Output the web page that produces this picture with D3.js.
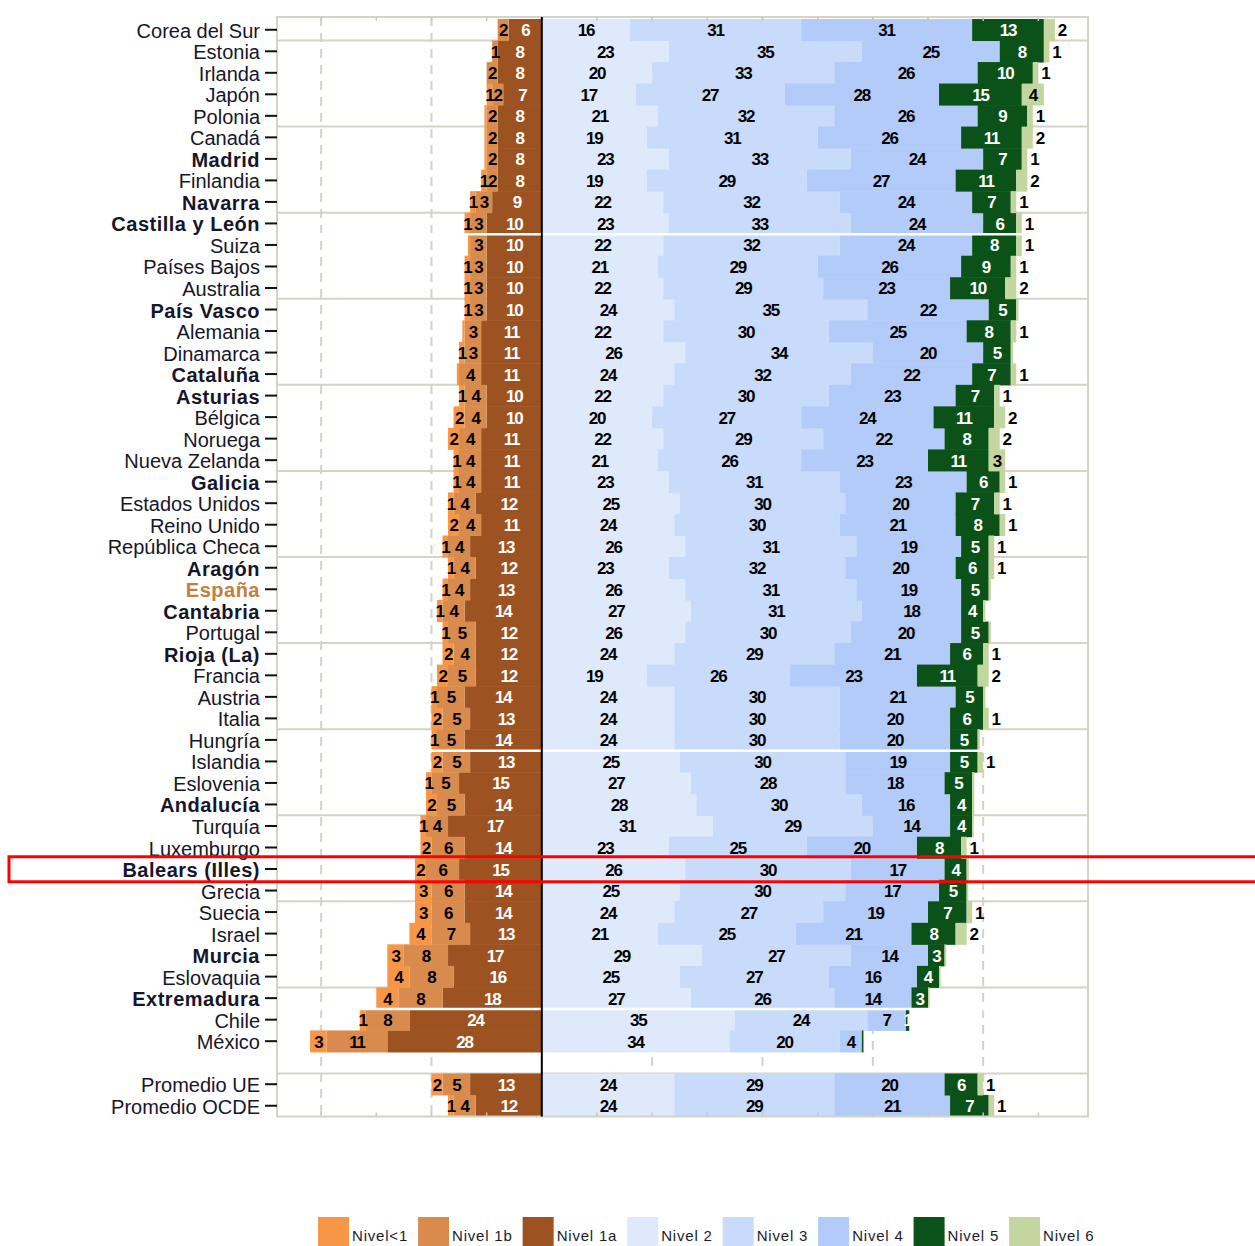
<!DOCTYPE html>
<html>
<head>
<meta charset="utf-8">
<script src="https://cdn.jsdelivr.net/npm/d3@7"></script>
<style>
  body { margin: 0; background: #fff; }
  text { font-family: "Liberation Sans", Arial, sans-serif; }
</style>
</head>
<body>
<script>
(function () {

    // categories, top to bottom ('' = empty spacer row)
    const categories = ['Corea del Sur', 'Estonia', 'Irlanda', 'Japón', 'Polonia', 'Canadá', 'Madrid',
        'Finlandia', 'Navarra', 'Castilla y León', 'Suiza', 'Países Bajos', 'Australia', 'País Vasco',
        'Alemania', 'Dinamarca', 'Cataluña', 'Asturias', 'Bélgica', 'Noruega', 'Nueva Zelanda', 'Galicia',
        'Estados Unidos', 'Reino Unido', 'República Checa', 'Aragón', 'España', 'Cantabria', 'Portugal',
        'Rioja (La)', 'Francia', 'Austria', 'Italia', 'Hungría', 'Islandia', 'Eslovenia', 'Andalucía',
        'Turquía', 'Luxemburgo', 'Balears (Illes)', 'Grecia', 'Suecia', 'Israel', 'Murcia', 'Eslovaquia',
        'Extremadura', 'Chile', 'México', '', 'Promedio UE', 'Promedio OCDE'];

    const regiones = ['Madrid', 'Navarra', 'Castilla y León', 'País Vasco', 'Cataluña', 'Asturias', 'Galicia',
        'Aragón', 'España', 'Cantabria', 'Rioja (La)', 'Andalucía', 'Balears (Illes)', 'Murcia', 'Extremadura'];

    // percentages per level
    const nivelMenos1 = [0, 0, 0, 1, 0.4, 0.4, 0.4, 1, 1, 1, 0.4, 1, 1, 1, 0.4, 1, 0.4, 1, 2, 2, 1, 1, 1, 2, 1,
        1, 1, 1, 1, 2, 2, 1, 2, 1, 2, 1, 2, 1, 2, 2, 3, 3, 4, 3, 4, 4, 1, 3, 0, 2, 1];
    const nivel1b = [2, 1, 2, 2, 2, 2, 2, 2, 3, 3, 3, 3, 3, 3, 3, 3, 4, 4, 4, 4, 4, 4, 4, 4, 4,
        4, 4, 4, 5, 4, 5, 5, 5, 5, 5, 5, 5, 4, 6, 6, 6, 6, 7, 8, 8, 8, 8, 11, 0, 5, 4];
    const nivel1a = [6, 8, 8, 7, 8, 8, 8, 8, 9, 10, 10, 10, 10, 10, 11, 11, 11, 10, 10, 11, 11, 11, 12, 11, 13,
        12, 13, 14, 12, 12, 12, 14, 13, 14, 13, 15, 14, 17, 14, 15, 14, 14, 13, 17, 16, 18, 24, 28, 0, 13, 12];
    const nivel2 = [16, 23, 20, 17, 21, 19, 23, 19, 22, 23, 22, 21, 22, 24, 22, 26, 24, 22, 20, 22, 21, 23, 25, 24, 26,
        23, 26, 27, 26, 24, 19, 24, 24, 24, 25, 27, 28, 31, 23, 26, 25, 24, 21, 29, 25, 27, 35, 34, 0, 24, 24];
    const nivel3 = [31, 35, 33, 27, 32, 31, 33, 29, 32, 33, 32, 29, 29, 35, 30, 34, 32, 30, 27, 29, 26, 31, 30, 30, 31,
        32, 31, 31, 30, 29, 26, 30, 30, 30, 30, 28, 30, 29, 25, 30, 30, 27, 25, 27, 27, 26, 24, 20, 0, 29, 29];
    const nivel4 = [31, 25, 26, 28, 26, 26, 24, 27, 24, 24, 24, 26, 23, 22, 25, 20, 22, 23, 24, 22, 23, 23, 20, 21, 19,
        20, 19, 18, 20, 21, 23, 21, 20, 20, 19, 18, 16, 14, 20, 17, 17, 19, 21, 14, 16, 14, 7, 4, 0, 20, 21];
    const nivel5 = [13, 8, 10, 15, 9, 11, 7, 11, 7, 6, 8, 9, 10, 5, 8, 5, 7, 7, 11, 8, 11, 6, 7, 8, 5,
        6, 5, 4, 5, 6, 11, 5, 6, 5, 5, 5, 4, 4, 8, 4, 5, 7, 8, 3, 4, 3, 0.6, 0.3, 0, 6, 7];
    const nivel6 = [2, 1, 1, 4, 1, 2, 1, 2, 1, 1, 1, 1, 2, 0.4, 1, 0.4, 1, 1, 2, 2, 3, 1, 1, 1, 1,
        1, 0.4, 0.4, 0.4, 1, 2, 0.4, 1, 0.4, 1, 0.4, 0.4, 0.3, 1, 0.4, 0.3, 1, 2, 0.3, 0.3, 0.3, 0, 0, 0, 1, 1];

    const levelNames = ['Nivel<1', 'Nivel 1b', 'Nivel 1a', 'Nivel 2', 'Nivel 3', 'Nivel 4', 'Nivel 5', 'Nivel 6'];
    const levelColors = ['#f79646', '#d98b4e', '#9c5221', '#dfe9fc', '#c9dbfa', '#b3cbf8', '#0a5218', '#c4d69f'];
    const labelColors = ['#000', '#000', '#fff', '#000', '#000', '#000', '#fff', '#000'];

    const width = 1255, height = 1246;

    const svg = d3.select('body')
        .append('svg')
        .attr('width', width)
        .attr('height', height);

    const x = d3.scaleLinear()
        .domain([-48, 99])
        .range([277, 1088]);

    const y = d3.scaleBand()
        .domain(categories)
        .range([19, 1116.5])
        .padding(0);

    // table: negatives for the levels below 2
    const keys = ['n1a', 'n1b', 'n0', 'n2', 'n3', 'n4', 'n5', 'n6'];
    const keyLevel = {n0: 0, n1b: 1, n1a: 2, n2: 3, n3: 4, n4: 5, n5: 6, n6: 7};
    const table = categories.map((c, i) => ({
        cat: c,
        n0: -nivelMenos1[i], n1b: -nivel1b[i], n1a: -nivel1a[i],
        n2: nivel2[i], n3: nivel3[i], n4: nivel4[i], n5: nivel5[i], n6: nivel6[i]
    }));

    const series = d3.stack()
        .keys(keys)
        .offset(d3.stackOffsetDiverging)(table);

    const plotTop = 17, plotBottom = 1116.5;

    // dashed vertical gridlines
    svg.append('g')
        .selectAll('line')
        .data(x.ticks(8).filter(t => t !== 0))
        .join('line')
        .attr('x1', d => x(d)).attr('x2', d => x(d))
        .attr('y1', plotTop).attr('y2', plotBottom)
        .attr('stroke', '#d3d3c6')
        .attr('stroke-width', 2)
        .attr('stroke-dasharray', '9,7');

    // horizontal gridlines every four rows
    const gridRows = d3.range(1, categories.length, 4);
    svg.append('g')
        .selectAll('line')
        .data(gridRows)
        .join('line')
        .attr('x1', x.range()[0]).attr('x2', x.range()[1])
        .attr('y1', d => y(categories[d])).attr('y2', d => y(categories[d]))
        .attr('stroke', '#d3d3c6')
        .attr('stroke-width', 2);

    // bars
    const layer = svg.append('g')
        .selectAll('g')
        .data(series)
        .join('g')
        .attr('fill', s => levelColors[keyLevel[s.key]]);

    layer.selectAll('rect')
        .data(s => s.filter(d => d.data.cat !== ''))
        .join('rect')
        .attr('x', d => x(Math.min(d[0], d[1])))
        .attr('width', d => Math.abs(x(d[1]) - x(d[0])))
        .attr('y', d => y(d.data.cat))
        .attr('height', y.bandwidth() + 0.5);

    // white separators over the bars
    const whiteRows = [10, 34, 46];
    svg.append('g')
        .selectAll('line')
        .data(whiteRows)
        .join('line')
        .attr('x1', x.range()[0] + 1).attr('x2', x.range()[1] - 1)
        .attr('y1', d => y(categories[d])).attr('y2', d => y(categories[d]))
        .attr('stroke', '#fff')
        .attr('stroke-width', 2.5);

    // plot border
    svg.append('rect')
        .attr('x', x.range()[0]).attr('y', plotTop)
        .attr('width', x.range()[1] - x.range()[0])
        .attr('height', plotBottom - plotTop)
        .attr('fill', 'none')
        .attr('stroke', '#d3d3c6')
        .attr('stroke-width', 2);

    // small ticks on the top and bottom edges
    const minor = x.ticks(15).filter(t => t > -48 && t < 99);
    svg.append('g')
        .selectAll('line')
        .data(minor)
        .join('line')
        .attr('x1', d => x(d)).attr('x2', d => x(d))
        .attr('y1', plotTop).attr('y2', plotTop + 4)
        .attr('stroke', '#c8c8bb').attr('stroke-width', 1.5);
    svg.append('g')
        .selectAll('line')
        .data(minor)
        .join('line')
        .attr('x1', d => x(d)).attr('x2', d => x(d))
        .attr('y1', plotBottom - 4).attr('y2', plotBottom)
        .attr('stroke', '#c8c8bb').attr('stroke-width', 1.5);

    // zero line
    svg.append('line')
        .attr('x1', x(0)).attr('x2', x(0))
        .attr('y1', plotTop).attr('y2', plotBottom)
        .attr('stroke', '#000')
        .attr('stroke-width', 2);

    // value labels
    const labels = [];
    series.forEach(s => {
        const lv = keyLevel[s.key];
        s.forEach(d => {
            if (d.data.cat === '') return;
            const v = Math.abs(d[1] - d[0]);
            const r = Math.round(v);
            if (r < 1) return;
            let cx = (x(d[0]) + x(d[1])) / 2;
            if (lv === 7 && v < 3) cx = x(Math.max(d[0], d[1])) + 7;
            labels.push({cat: d.data.cat, text: r, cx: cx, color: labelColors[lv]});
        });
    });

    svg.append('g')
        .selectAll('text')
        .data(labels)
        .join('text')
        .attr('x', d => d.cx)
        .attr('y', d => y(d.cat) + y.bandwidth() / 2 + 1)
        .attr('text-anchor', 'middle')
        .attr('dominant-baseline', 'central')
        .attr('font-size', 17)
        .attr('font-weight', 'bold')
        .attr('letter-spacing', -1.2)
        .attr('fill', d => d.color)
        .text(d => d.text);

    // category axis
    const yAxis = d3.axisLeft(y).tickSize(12).tickPadding(5);
    const gy = svg.append('g')
        .attr('transform', 'translate(' + x.range()[0] + ',0)')
        .call(yAxis);
    gy.select('.domain').remove();
    gy.selectAll('.tick line')
        .attr('stroke', '#111')
        .attr('stroke-width', 2)
        .attr('display', d => d === '' ? 'none' : null);
    gy.selectAll('.tick text')
        .attr('font-family', '"Liberation Sans", Arial, sans-serif')
        .attr('font-size', 20)
        .attr('dy', '0.4em')
        .attr('font-weight', d => regiones.includes(d) ? 'bold' : 'normal')
        .attr('letter-spacing', d => regiones.includes(d) ? 0.5 : 0)
        .attr('fill', d => d === 'España' ? '#c0803f' : '#16162a');

    // highlight box
    const hl = 'Balears (Illes)';
    svg.append('rect')
        .attr('x', 9)
        .attr('y', y(hl) - 1.5)
        .attr('width', 1270)
        .attr('height', y.bandwidth() + 3.5)
        .attr('fill', 'none')
        .attr('stroke', '#ff0000')
        .attr('stroke-width', 3);

    // legend
    const legend = svg.append('g').attr('transform', 'translate(318,1217)');
    let lx = 0;
    levelNames.forEach((name, i) => {
        const g = legend.append('g').attr('transform', 'translate(' + lx + ',0)');
        g.append('rect')
            .attr('width', 31).attr('height', 34)
            .attr('fill', levelColors[i]);
        const t = g.append('text')
            .attr('x', 34).attr('y', 24)
            .attr('font-size', 15)
            .attr('letter-spacing', 0.8)
            .attr('fill', '#1a1a2e')
            .text(name);
        lx += 34 + t.node().getComputedTextLength() + 10;
    });

})();
</script>
</body>
</html>
